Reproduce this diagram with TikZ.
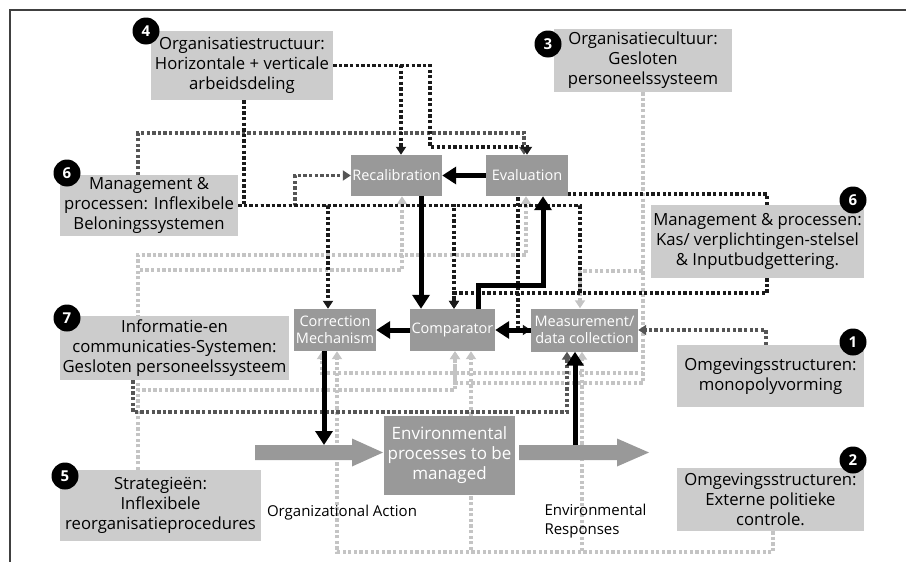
\documentclass[tikz,border=0pt]{standalone}
\usepackage{fontspec}
\setmainfont{Open Sans}
\usetikzlibrary{arrows.meta}
\pgfdeclarelayer{wires}
\pgfsetlayers{wires,main}
\definecolor{boxlight}{HTML}{CCCCCC}
\definecolor{boxdark}{HTML}{999999}
\definecolor{wireblack}{HTML}{1A1A1A}
\definecolor{wiredark}{HTML}{555555}
\definecolor{wirelight}{HTML}{C4C4C4}
\definecolor{framegray}{HTML}{404040}
\begin{document}
\begin{tikzpicture}[x=1pt,y=-1pt,
  factor/.style={fill=boxlight, inner sep=0pt, align=center, font=\fontsize{16.7}{20}\selectfont},
  stage/.style={fill=boxdark, text=white, inner sep=0pt, align=center, font=\fontsize{14.5}{17}\selectfont},
  badge/.style={circle, fill=black, text=white, inner sep=0pt, minimum size=27pt, font=\fontsize{15}{15}\selectfont\bfseries},
  dots/.style={line width=3.3pt, dash pattern=on 3.3pt off 2.3pt},
  bk/.style={dots, draw=wireblack},
  dk/.style={dots, draw=wiredark},
  lg/.style={dots, draw=wirelight},
  tip/.style={-{Triangle[length=8pt,width=10pt]}},
  flow/.style={line width=5pt, draw=black, -{Triangle[length=14pt,width=17pt]}},
  caption/.style={font=\fontsize{15}{19}\selectfont},
]
\useasboundingbox (0,0) rectangle (906,562);

% partial frame
\draw[framegray, line width=1.5pt] (10,562) -- (10,10) -- (906,10);

% factor boxes
\node[factor, minimum width=182pt, minimum height=69pt] (box4) at (242,65.5) {Organisatiestructuur:\\Horizontale + verticale\\arbeidsdeling};
\node[factor, minimum width=178pt, minimum height=63pt] (box3) at (643,60.5) {Organisatiecultuur:\\Gesloten\\personeelssysteem};
\node[factor, minimum width=178pt, minimum height=61pt] (box6L) at (149,205.5) {Management \&\\processen: Inflexibele\\Beloningssystemen};
\node[factor, minimum width=213pt, minimum height=73pt] (box6R) at (757.5,241.5) {Management \& processen:\\Kas/ verplichtingen-stelsel\\\& Inputbudgettering.};
\node[factor, minimum width=229pt, minimum height=64pt] (box7) at (174.5,348) {Informatie-en\\communicaties-Systemen:\\Gesloten personeelssysteem};
\node[factor, minimum width=187pt, minimum height=62pt] (box1) at (770.5,376) {Omgevingsstructuren:\\monopolyvorming};
\node[factor, minimum width=187pt, minimum height=63pt] (box2) at (770.5,499.5) {Omgevingsstructuren:\\Externe politieke\\controle.};
\node[factor, minimum width=201pt, minimum height=71pt] (box5) at (160.5,505.5) {Strategieën:\\Inflexibele\\reorganisatieprocedures};

% control loop stages
\node[stage, minimum width=91pt, minimum height=41pt] (recal) at (396.5,175.5) {Recalibration};
\node[stage, minimum width=82pt, minimum height=41pt] (eval) at (527,175.5) {Evaluation};
\node[stage, minimum width=82pt, minimum height=42pt] (cm) at (335,330) {Correction\\Mechanism};
\node[stage, minimum width=85pt, minimum height=42pt] (comp) at (452.5,330) {Comparator};
\node[stage, minimum width=107pt, minimum height=43pt] (meas) at (584.5,330) {Measurement/\\data collection};
\node[stage, minimum width=131pt, minimum height=79pt, font=\fontsize{17}{20}\selectfont] (env) at (449.5,455.5) {Environmental\\processes to be\\managed};

% numbered badges
\node[badge] (n4) at (146,31) {4};
\node[badge] (n3) at (548,44) {3};
\node[badge] (n6a) at (67,173) {6};
\node[badge] (n6b) at (853,200) {6};
\node[badge] (n7) at (67,318) {7};
\node[badge] (n1) at (853,342) {1};
\node[badge] (n2) at (853,460) {2};
\node[badge] (n5) at (65,476) {5};

% broad arrows: organizational action and environmental responses
\fill[boxdark] (255,445) -- (352,445) -- (352,438.5) -- (383,452.5) -- (352,466.5) -- (352,460) -- (255,460) -- cycle;
\fill[boxdark] (519,445) -- (617,445) -- (617,438.5) -- (649,452.5) -- (617,466.5) -- (617,460) -- (519,460) -- cycle;
\coordinate (oaTop) at (324,445);
\coordinate (erTop) at (575,445);

\node[caption] (oalabel) at (342,513) {Organizational Action};
\node[caption, align=left, anchor=west] (erlabel) at (541,521) {Environmental\\Responses};

% influence lines, behind the boxes
\begin{pgfonlayer}{wires}
  % light grey: culture
  \draw[lg,tip] (box3.south) -- (643,271) -| ([xshift=-4.5]meas.north);
  \draw[lg,tip] (box3.south) -- (643,373) -| ([xshift=-13]cm.south);
  \draw[lg,tip] (box3.south) -- (643,383) -| ([xshift=2.5]comp.south);
  % light grey: external political control
  \draw[lg,tip] ([xshift=2.5]box2.south) |- (337,552) -- ([xshift=2]cm.south);
  \draw[lg,tip] ([xshift=2.5]box2.south) |- (471,552) -- ([xshift=18.5]comp.south);
  \draw[lg,tip] ([xshift=2.5]box2.south) |- (582,552) -- ([xshift=-2.5]meas.south);
  % light grey: strategies
  \draw[lg,tip] ([xshift=-22.5]box5.north) |- (526,255) -- ([xshift=-1]eval.south);
  \draw[lg,tip] ([xshift=-22.5]box5.north) |- (402,270) -- ([xshift=5.5]recal.south);
  \draw[lg,tip] ([xshift=-22.5]box5.north) |- (455,390) -- ([xshift=2.5]comp.south);
  % dark grey
  \draw[dk,tip] ([xshift=-41.5]box7.south) |- (567,412) -- ([xshift=-17.5]meas.south);
  \draw[dk,tip] ([xshift=-11]box6L.north) |- (524,133) -- ([xshift=-3]eval.north);
  \draw[dk,tip] (box6L.east) -- (295,205.5) |- (recal.west);
  \draw[dk,tip] ([xshift=-4.5]box1.north) |- (meas.east);
  % black: reward systems
  \coordinate (j6) at (580,293);
  \draw[bk,tip] (box6L.east) -| ([xshift=-7]cm.north);
  \draw[bk,tip] (box6L.east) -| ([xshift=1.5]comp.north);
  \draw[bk] (box6L.east) -| (j6);
  % black: structure
  \coordinate (j4) at (244,205.5);
  \draw[bk,tip] (box4.east) -| ([xshift=4.5]recal.north);
  \draw[bk,tip] (box4.east) -| (430,147) -| (eval.north);
  \draw[bk] ([xshift=2]box4.south) -- (j4);
  % black: budgeting
  \draw[bk,tip] ([xshift=9.5]box6R.north) |- (518,194) |- (meas.west);
  \draw[bk,tip] ([xshift=9.5]box6R.south) |- (454,293) -- ([xshift=1.5]comp.north);
\end{pgfonlayer}

% control loop flows
\draw[flow] (eval.west) -- (recal.east);
\draw[flow] ([xshift=24.5]recal.south) -- ([xshift=-31.5]comp.north);
\draw[flow] (comp.west) -- (cm.east);
\draw[flow] (meas.west) -- (comp.east);
\draw[flow] ([xshift=25.5]comp.north) |- (543,285) -- ([xshift=16]eval.south);
\draw[flow] ([xshift=-11]cm.south) -- (oaTop);
\draw[flow] (erTop) -- ([xshift=-9.5]meas.south);
\end{tikzpicture}
\end{document}
